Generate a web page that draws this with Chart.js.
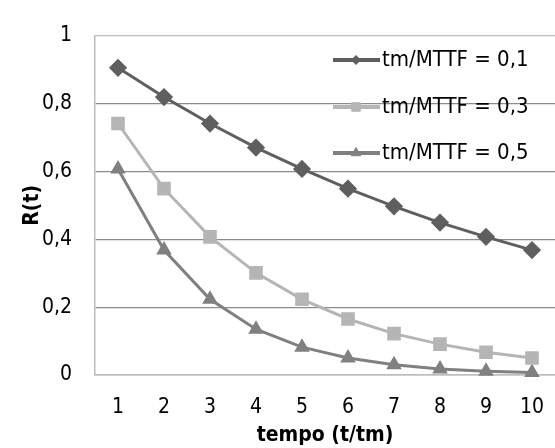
<!DOCTYPE html>
<html>
<head>
<meta charset="utf-8">
<script src="https://cdn.jsdelivr.net/npm/chart.js@4.4.0/dist/chart.umd.min.js"></script>
<style>
html,body{margin:0;padding:0;background:#fff;}
#wrap{width:555px;height:448px;position:relative;}
</style>
</head>
<body>
<div id="wrap"><canvas id="c" width="555" height="448"></canvas></div>
<script>
const categories = ['1','2','3','4','5','6','7','8','9','10'];
const seriesNames = ['tm/MTTF = 0,1','tm/MTTF = 0,3','tm/MTTF = 0,5'];
const s01 = [0.905,0.819,0.741,0.670,0.607,0.549,0.497,0.449,0.407,0.368];
const s03 = [0.741,0.549,0.407,0.301,0.223,0.165,0.122,0.091,0.067,0.050];
const s05 = [0.607,0.368,0.223,0.135,0.082,0.050,0.030,0.018,0.011,0.007];
const yTicks = [0,0.2,0.4,0.6,0.8,1];

const FONT = "'DejaVu Sans Condensed','DejaVu Sans',sans-serif";

const legendPlugin = {
  id:'inLegend',
  afterDatasetsDraw(chart){
    const ctx = chart.ctx;
    const ys = [60,107,153];
    const lr = [4.5,6,5.5];
    chart.data.datasets.forEach((ds,i)=>{
      const y = ys[i];
      ctx.save();
      ctx.strokeStyle = ds.borderColor;
      ctx.lineWidth = 4;
      ctx.beginPath(); ctx.moveTo(333,y); ctx.lineTo(380,y); ctx.stroke();
      ctx.fillStyle = ds.pointBackgroundColor;
      ctx.lineWidth = 1;
      Chart.helpers.drawPoint(ctx,{pointStyle:ds.pointStyle,radius:lr[i],rotation:0,borderWidth:1},356,y);
      ctx.fillStyle = '#000';
      ctx.font = "22px " + FONT;
      ctx.textBaseline = 'middle';
      ctx.textAlign = 'left';
      ctx.fillText(ds.label, 382, y);
      ctx.restore();
    });
  }
};

function mk(label,data,color,style,r){
  return {label,data,borderColor:color,backgroundColor:color,pointBackgroundColor:color,pointBorderColor:color,
    borderWidth:3,pointStyle:style,pointRadius:r,pointHoverRadius:r,tension:0,fill:false,clip:false};
}

new Chart(document.getElementById('c'),{
  type:'line',
  data:{labels:categories,datasets:[
    mk(seriesNames[0],s01,'#5f5f5f','rectRot',7),
    mk(seriesNames[1],s03,'#b5b5b5','rect',7.5),
    mk(seriesNames[2],s05,'#808080','triangle',6)
  ]},
  options:{
    responsive:false,animation:false,
    layout:{autoPadding:false,padding:{left:0,right:0,top:21,bottom:0}},
    plugins:{legend:{display:false},tooltip:{enabled:false}},
    scales:{
      x:{offset:true,
        grid:{display:true,drawOnChartArea:false,drawTicks:true,tickLength:16,tickColor:'rgba(0,0,0,0)'},
        border:{color:'#bdbdbd',width:1.5},
        ticks:{color:'#000',font:{family:FONT,size:21},padding:4,maxRotation:0},
        title:{display:true,text:'tempo (t/tm)',color:'#000',font:{family:FONT,size:21,weight:'bold'},padding:{top:0,bottom:0}},
        afterFit(s){s.height=73;s.paddingLeft=0;s.paddingRight=0;}
      },
      y:{min:0,max:1,
        afterBuildTicks(s){s.ticks=yTicks.map(v=>({value:v}));},
        grid:{color:(c)=>c.tick&&c.tick.value===1?'#bdbdbd':'#8c8c8c',lineWidth:1.2,drawTicks:false},
        border:{color:'#bdbdbd',width:1.5},
        ticks:{color:'#000',font:{family:FONT,size:21},padding:23,
          callback:(v)=>String(v).replace('.',',')},
        title:{display:true,text:'R(t)',color:'#000',font:{family:FONT,size:21,weight:'bold'},padding:{top:20,bottom:0}},
        afterFit(s){s.width=95;}
      }
    }
  },
  plugins:[legendPlugin]
});
</script>
</body>
</html>
